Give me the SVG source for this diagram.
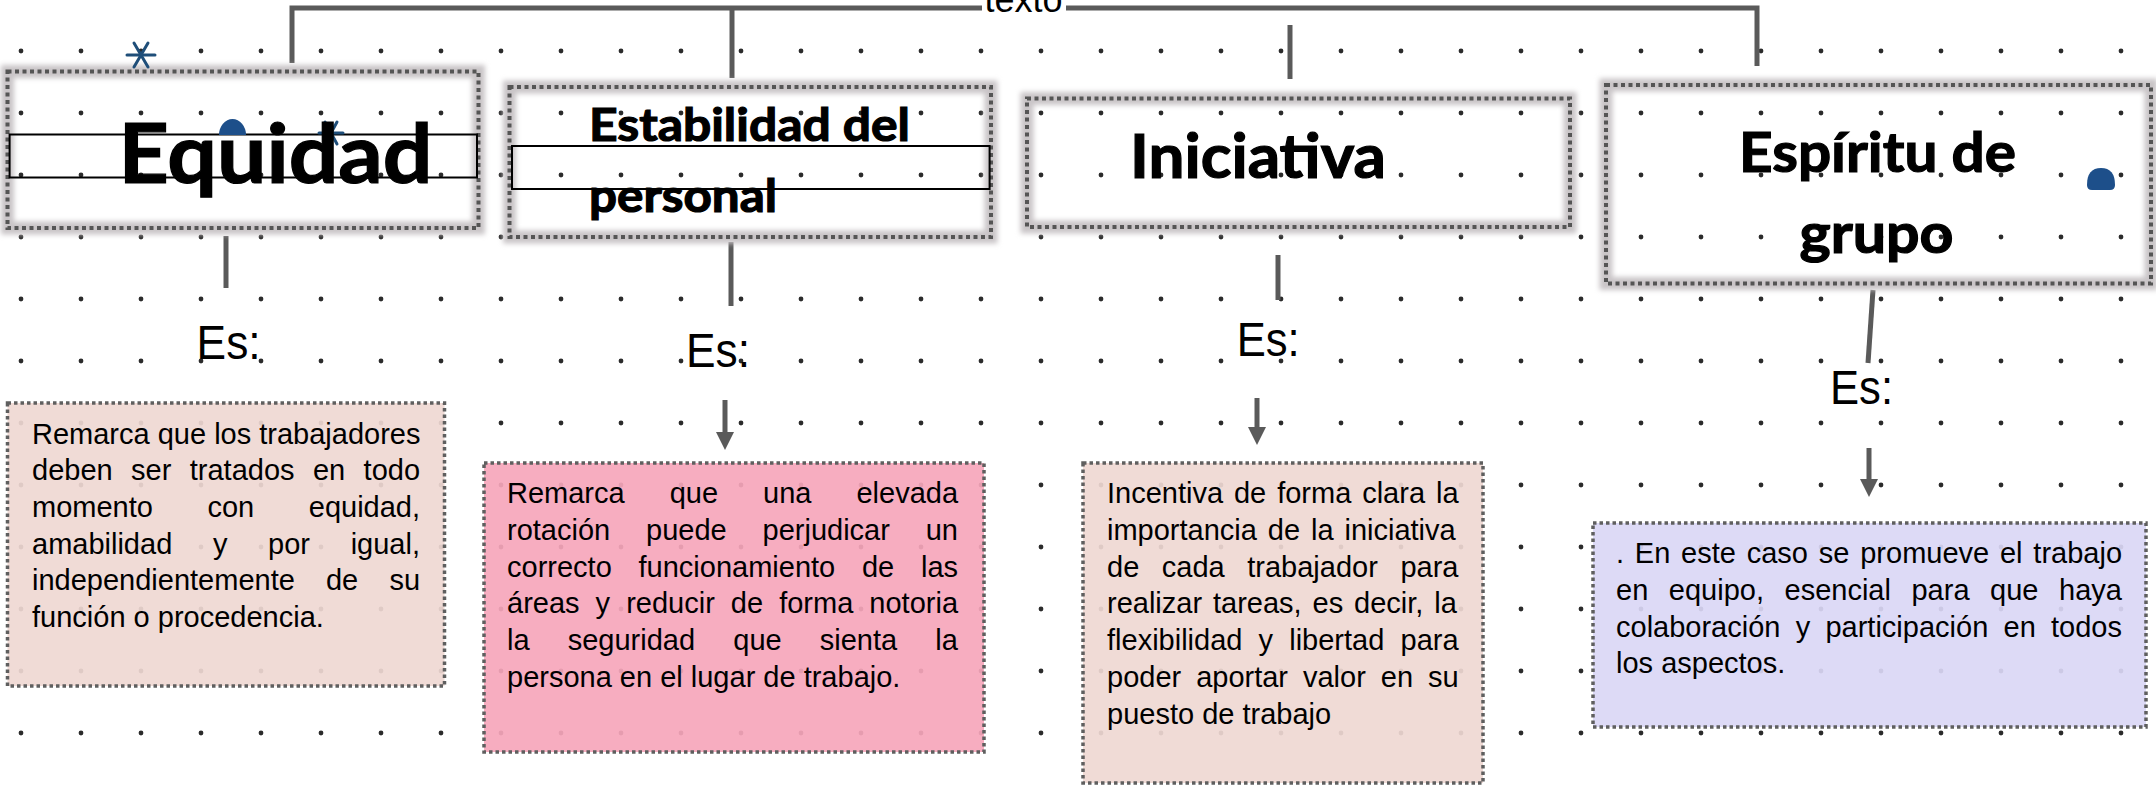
<svg xmlns="http://www.w3.org/2000/svg" width="2156" height="787" viewBox="0 0 2156 787">
<style>
.hdr{font-family:Lato,"Open Sans",sans-serif;font-weight:bold;fill:#000;stroke:#000;stroke-width:1.2}
.es{font-family:"Liberation Sans",Arial,sans-serif;font-size:48px;fill:#000}
.body{font-family:"Liberation Sans",Arial,sans-serif;font-size:29px;fill:#000}
.glow{fill:none;stroke:#c9c5c7;stroke-width:13}
.hbox{fill:none;stroke:#555;stroke-width:4;stroke-dasharray:4 3.5}
.cbox{stroke:#5f5f5f;stroke-width:3.5;stroke-dasharray:3.5 3;fill-opacity:0.92}
.thin{fill:none;stroke:#000;stroke-width:2}
.conn{fill:none;stroke:#5a5a5a;stroke-width:5}
.deco{stroke:#1f4e79;stroke-width:3;stroke-linecap:round}
</style>
<defs>
<pattern id="grid" width="60" height="62" patternUnits="userSpaceOnUse">
<circle cx="21" cy="51" r="2.4" fill="#2b2b2b"/>
</pattern>
<filter id="blur" x="-5%" y="-10%" width="110%" height="120%">
<feGaussianBlur stdDeviation="2.5"/>
</filter>
<marker id="arrow" markerUnits="userSpaceOnUse" markerWidth="18" markerHeight="18" refX="2" refY="9" orient="auto">
<path d="M0,0 L18,9 L0,18 Z" fill="#5a5a5a"/>
</marker>
</defs>
<rect x="0" y="0" width="2156" height="787" fill="#fff"/>
<rect x="0" y="0" width="2156" height="787" fill="url(#grid)"/>

<g id="connectors">
<path class="conn" d="M292,63 V8 H1757 V66"/>
<path class="conn" d="M732,8 V78"/>
<path class="conn" d="M1290,25 V79"/>
<path class="conn" d="M226,236 V288"/>
<path class="conn" d="M731,242 V306"/>
<path class="conn" d="M1278,255 V300"/>
<path class="conn" d="M1873,290 L1868,363"/>
<path class="conn" d="M725,400 V434" marker-end="url(#arrow)"/>
<path class="conn" d="M1257,398 V429" marker-end="url(#arrow)"/>
<path class="conn" d="M1869,448 V481" marker-end="url(#arrow)"/>
</g>

<g id="title-texto">
<rect x="982" y="0" width="84" height="13" fill="#fff"/>
<text x="984.5" y="11.5" font-family="Liberation Sans, Arial, sans-serif" font-size="36">texto</text>
</g>

<g id="node-equidad">
<rect class="glow" x="7.5" y="71.5" width="471" height="156.5" filter="url(#blur)"/>
<rect class="hbox" x="7.5" y="71.5" width="471" height="156.5"/>
<rect class="thin" x="9.6" y="134.5" width="467.4" height="43"/>
<g class="deco">
<line x1="127" y1="55" x2="155" y2="55"/>
<line x1="134" y1="43" x2="148" y2="67"/>
<line x1="148" y1="43" x2="134" y2="67"/>
</g>
<g class="deco" stroke-width="2.5">
<line x1="319" y1="133" x2="343" y2="133"/>
<line x1="325" y1="122" x2="337" y2="144"/>
<line x1="337" y1="122" x2="325" y2="144"/>
</g>
<path d="M219,135 A13.5,16 0 0 1 246,135 Z" fill="#1d4f8a"/>
<text class="hdr" x="118.5" y="183" font-size="83" textLength="314" lengthAdjust="spacingAndGlyphs">Equidad</text>
</g>

<g id="node-estabilidad">
<rect class="glow" x="509.5" y="87" width="481.5" height="150" filter="url(#blur)"/>
<rect class="hbox" x="509.5" y="87" width="481.5" height="150"/>
<rect class="thin" x="512" y="146" width="477.6" height="43"/>
<text class="hdr" x="589" y="141" font-size="46" textLength="321" lengthAdjust="spacingAndGlyphs">Estabilidad del</text>
<text class="hdr" x="589" y="212" font-size="46" textLength="188" lengthAdjust="spacingAndGlyphs">personal</text>
</g>

<g id="node-iniciativa">
<rect class="glow" x="1027" y="98.5" width="543" height="128.5" filter="url(#blur)"/>
<rect class="hbox" x="1027" y="98.5" width="543" height="128.5"/>
<text class="hdr" x="1130" y="178" font-size="62" textLength="256" lengthAdjust="spacingAndGlyphs">Iniciativa</text>
</g>

<g id="node-espiritu">
<rect class="glow" x="1606" y="85" width="545" height="198.5" filter="url(#blur)"/>
<rect class="hbox" x="1606" y="85" width="545" height="198.5"/>
<text class="hdr" x="1739" y="172" font-size="55" textLength="277" lengthAdjust="spacingAndGlyphs">Espíritu de</text>
<text class="hdr" x="1799.5" y="253" font-size="55" textLength="154" lengthAdjust="spacingAndGlyphs">grupo</text>
<path d="M2087,185 Q2087,168 2101,168 Q2115,168 2115,185 Q2115,190 2110,190 H2092 Q2087,190 2087,185 Z" fill="#1d4f8a"/>
</g>

<g id="label-es-1"><text class="es" x="196.6" y="359" textLength="64" lengthAdjust="spacingAndGlyphs">Es:</text></g>
<g id="label-es-2"><text class="es" x="686" y="367" textLength="64" lengthAdjust="spacingAndGlyphs">Es:</text></g>
<g id="label-es-3"><text class="es" x="1236.7" y="356" textLength="63" lengthAdjust="spacingAndGlyphs">Es:</text></g>
<g id="label-es-4"><text class="es" x="1830" y="404" textLength="63" lengthAdjust="spacingAndGlyphs">Es:</text></g>

<g id="desc-equidad">
<rect class="cbox" x="7.5" y="403" width="437" height="283" fill="#efd8d2"/>
<text class="body">
<tspan x="32" y="443.5">Remarca que los trabajadores</tspan>
<tspan x="32" y="480.2" word-spacing="10.35">deben ser tratados en todo</tspan>
<tspan x="32" y="516.9" word-spacing="46.5">momento con equidad,</tspan>
<tspan x="32" y="553.6" word-spacing="32.6">amabilidad y por igual,</tspan>
<tspan x="32" y="590.3" word-spacing="23.1">independientemente de su</tspan>
<tspan x="32" y="627">función o procedencia.</tspan>
</text>
</g>

<g id="desc-estabilidad">
<rect class="cbox" x="484" y="463" width="500" height="289" fill="#f6a6bb"/>
<text class="body">
<tspan x="507" y="503.3" word-spacing="36.97">Remarca que una elevada</tspan>
<tspan x="507" y="540" word-spacing="27.8">rotación puede perjudicar un</tspan>
<tspan x="507" y="576.7" word-spacing="18.7">correcto funcionamiento de las</tspan>
<tspan x="507" y="613.4" word-spacing="8">áreas y reducir de forma notoria</tspan>
<tspan x="507" y="650.1" word-spacing="30.1">la seguridad que sienta la</tspan>
<tspan x="507" y="686.8">persona en el lugar de trabajo.</tspan>
</text>
</g>

<g id="desc-iniciativa">
<rect class="cbox" x="1083" y="463" width="400" height="320" fill="#efd8d2"/>
<text class="body">
<tspan x="1107" y="503.3" word-spacing="2.85">Incentiva de forma clara la</tspan>
<tspan x="1107" y="540" word-spacing="2.85">importancia de la iniciativa</tspan>
<tspan x="1107" y="576.7" word-spacing="14.5">de cada trabajador para</tspan>
<tspan x="1107" y="613.4" word-spacing="2.85">realizar tareas, es decir, la</tspan>
<tspan x="1107" y="650.1" word-spacing="8.1">flexibilidad y libertad para</tspan>
<tspan x="1107" y="686.8" word-spacing="6.9">poder aportar valor en su</tspan>
<tspan x="1107" y="723.5">puesto de trabajo</tspan>
</text>
</g>

<g id="desc-espiritu">
<rect class="cbox" x="1593" y="523" width="553" height="204" fill="#dad7f5"/>
<text class="body">
<tspan x="1616" y="563.3" word-spacing="2.74">. En este caso se promueve el trabajo</tspan>
<tspan x="1616" y="600" word-spacing="12.5">en equipo, esencial para que haya</tspan>
<tspan x="1616" y="636.7" word-spacing="7.2">colaboración y participación en todos</tspan>
<tspan x="1616" y="673.4">los aspectos.</tspan>
</text>
</g>
</svg>
